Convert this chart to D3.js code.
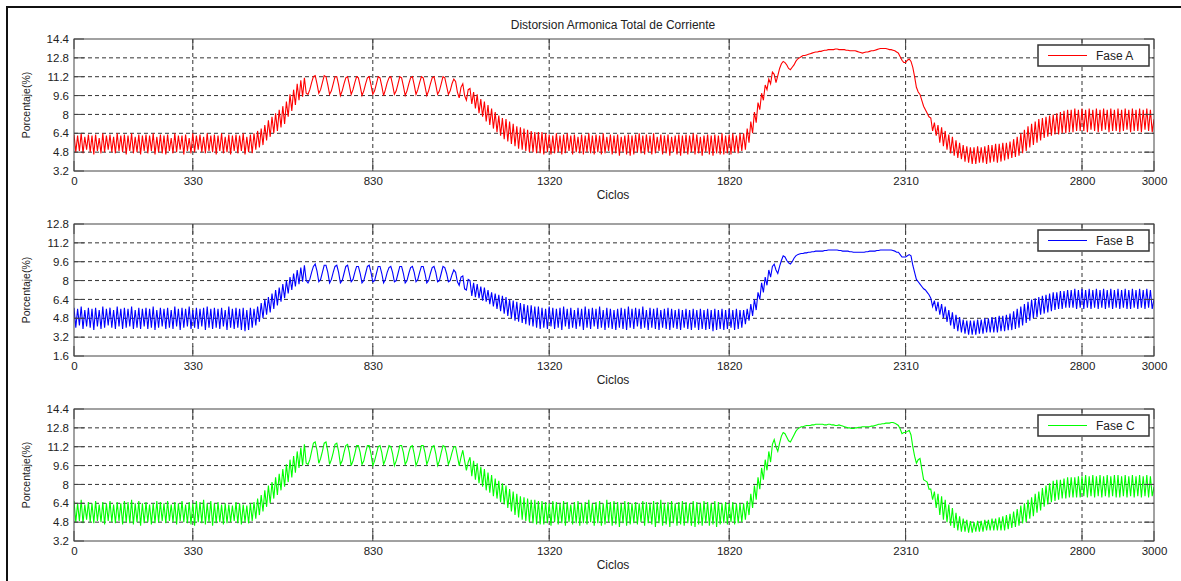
<!DOCTYPE html>
<html>
<head>
<meta charset="utf-8">
<script src="https://cdn.jsdelivr.net/npm/d3@7"></script>
<style>
  body { margin: 0; background: #fff; }
  svg text { font-family: "Liberation Sans", Arial, sans-serif; fill: #222; }
</style>
</head>
<body>
<div id="chart"></div>
<script>
// THD de corriente por fase, un valor cada 5 ciclos (0..3000)
var cycles = d3.range(0, 3001, 5);

var faseA = [
  6.3,4.8,6.2,4.9,6.4,4.7,6.1,5.0,6.3,4.8,6.2,4.6,6.3,4.9,6.0,4.7,6.4,4.8,6.2,5.0,
  6.3,4.8,6.1,4.7,6.4,4.9,6.2,4.8,6.3,4.6,6.2,4.9,6.4,4.7,6.1,4.8,6.3,4.6,6.2,4.9,
  6.3,4.7,6.2,4.9,6.4,4.6,6.1,4.8,6.3,4.7,6.2,4.6,6.3,4.9,6.0,4.7,6.4,4.8,6.2,5.0,
  6.2,4.6,6.3,4.9,6.0,4.7,6.4,4.8,6.2,5.0,6.3,4.8,6.1,4.7,6.4,4.9,6.2,4.8,6.3,4.6,
  6.2,4.9,6.4,4.7,6.1,4.8,6.3,4.6,6.2,4.9,6.3,4.7,6.2,4.9,6.4,4.6,6.1,4.8,6.3,4.7,
  6.4,5.0,6.6,5.2,6.8,5.4,7.1,5.8,7.5,6.1,7.8,6.4,8.1,6.6,8.4,6.9,8.7,7.2,9.1,7.8,
  9.7,8.3,10.1,8.8,10.6,9.2,10.9,9.5,11.1,9.8,9.7,10.1,10.7,11.2,11.3,10.6,9.8,10.1,10.7,11.3,
  11.2,10.5,9.7,10.0,10.6,11.2,11.2,10.5,9.6,10.0,10.6,11.1,11.2,10.5,9.7,10.1,10.7,11.2,11.1,10.4,
  9.6,10.0,10.6,11.1,11.2,10.5,9.7,10.0,10.6,11.2,11.1,10.4,9.6,10.1,10.7,11.1,11.2,10.5,9.7,10.0,
  10.6,11.2,11.1,10.4,9.6,10.0,10.6,11.1,11.2,10.5,9.7,10.1,10.7,11.2,11.1,10.4,9.6,10.0,10.6,11.1,
  11.2,10.5,9.7,10.0,10.6,11.2,11.1,10.4,9.7,10.0,10.6,11.0,10.8,9.9,9.4,10.3,10.6,9.6,9.2,10.1,
  10.2,8.9,9.9,8.5,9.7,8.1,9.3,7.8,9.1,7.4,8.8,7.1,8.5,6.8,8.2,6.5,7.9,6.2,7.7,5.9,
  7.6,5.7,7.4,5.5,7.2,5.3,7.0,5.1,6.9,5.0,6.8,4.9,6.7,4.8,6.6,4.8,6.5,4.7,6.5,4.7,
  6.5,4.6,6.4,4.8,6.3,4.6,6.2,4.7,6.4,4.8,6.2,4.6,6.3,4.7,6.4,4.9,6.2,4.6,6.3,4.8,
  6.1,4.7,6.3,4.6,6.2,4.8,6.4,4.7,6.2,4.6,6.3,4.8,6.2,4.6,6.4,4.7,6.1,4.9,6.3,4.6,
  6.2,4.7,6.3,4.5,6.1,4.8,6.2,4.6,6.3,4.5,6.2,4.6,6.3,4.8,6.4,4.7,6.2,4.6,6.3,4.8,
  6.2,4.6,6.4,4.7,6.1,4.9,6.3,4.6,6.2,4.7,6.3,4.5,6.1,4.8,6.2,4.6,6.3,4.5,6.2,4.7,
  6.3,4.6,6.2,4.8,6.4,4.6,6.3,4.7,6.1,4.5,6.2,4.8,6.3,4.6,6.2,4.5,6.3,4.7,6.2,4.6,
  6.4,4.6,6.2,4.7,6.3,4.6,6.4,4.8,6.2,4.7,6.4,4.9,6.4,5.0,6.8,5.6,7.4,6.4,8.2,7.3,
  9.0,8.4,9.8,9.2,10.5,10.1,11.0,10.6,11.6,11.4,10.7,11.3,11.9,12.3,12.5,12.4,12.2,11.9,11.8,12.0,
  12.2,12.5,12.7,12.8,12.9,13.0,13.0,13.05,13.1,13.15,13.2,13.25,13.3,13.3,13.35,13.35,13.4,13.45,13.45,13.5,
  13.5,13.5,13.5,13.55,13.55,13.5,13.5,13.5,13.5,13.45,13.45,13.4,13.4,13.4,13.4,13.35,13.3,13.25,13.2,13.25,
  13.3,13.3,13.35,13.4,13.4,13.45,13.5,13.55,13.6,13.6,13.6,13.6,13.55,13.5,13.5,13.45,13.4,13.3,13.2,12.9,
  12.6,12.4,12.4,12.6,12.7,12.5,12.0,11.2,10.3,9.9,9.7,9.2,8.7,8.4,8.1,7.8,7.7,6.6,7.3,6.2,
  7.1,5.6,6.9,5.3,6.6,5.0,6.3,4.7,6.1,4.5,5.8,4.3,5.6,4.2,5.4,4.0,5.3,3.9,5.2,3.8,
  5.2,3.8,5.3,3.9,5.2,3.9,5.3,3.8,5.4,3.9,5.4,4.0,5.5,3.9,5.5,4.0,5.6,4.1,5.6,4.2,
  5.7,4.3,5.9,4.4,6.1,4.5,6.4,4.7,6.7,4.9,7.0,5.2,7.2,5.4,7.4,5.6,7.6,5.8,7.7,6.0,
  7.8,6.1,7.9,6.2,8.0,6.3,8.1,6.3,8.2,6.4,8.3,6.4,8.4,6.5,8.4,6.5,8.5,6.6,8.4,6.6,
  8.5,6.6,8.4,6.5,8.5,6.7,8.4,6.6,8.5,6.5,8.4,6.6,8.5,6.7,8.4,6.5,8.5,6.6,8.4,6.6,
  8.5,6.5,8.4,6.6,8.5,6.7,8.4,6.5,8.5,6.6,8.4,6.6,8.5,6.5,8.4,6.7,8.5,6.6,8.4,6.5,
  7.6
];

var faseB = [
  5.7,4.0,5.6,4.2,5.8,3.9,5.5,4.1,5.7,4.0,5.6,3.8,5.7,4.1,5.5,3.9,5.8,4.0,5.6,4.2,
  5.7,4.0,5.5,3.9,5.8,4.1,5.6,3.9,5.7,4.0,5.6,4.1,5.8,3.9,5.5,4.0,5.7,3.9,5.6,4.1,
  5.7,3.9,5.6,4.0,5.8,3.8,5.5,4.0,5.7,4.1,5.6,3.9,5.7,4.0,5.5,3.9,5.8,4.1,5.6,3.8,
  5.7,4.0,5.6,4.1,5.8,3.9,5.5,4.0,5.7,3.9,5.6,4.1,5.7,3.8,5.8,4.0,5.6,3.9,5.7,4.0,
  5.6,3.9,5.7,4.1,5.5,3.8,5.8,4.0,5.6,3.9,5.7,4.0,5.6,3.8,5.7,3.7,5.5,3.8,5.7,4.0,
  5.6,4.2,5.8,4.5,6.1,4.8,6.4,5.1,6.6,5.3,6.9,5.6,7.2,5.9,7.4,6.2,7.7,6.5,8.0,6.9,
  8.3,7.2,8.6,7.5,8.9,7.7,9.1,7.9,9.3,8.0,7.8,8.1,8.7,9.2,9.4,8.8,7.9,8.1,8.7,9.3,
  9.3,8.7,7.8,8.1,8.7,9.2,9.3,8.7,7.8,8.0,8.6,9.2,9.3,8.6,7.9,8.1,8.7,9.2,9.2,8.6,
  7.8,8.0,8.6,9.2,9.3,8.7,7.9,8.0,8.6,9.2,9.2,8.6,7.8,8.1,8.7,9.1,9.2,8.7,7.9,8.0,
  8.6,9.2,9.2,8.6,7.8,8.0,8.6,9.1,9.2,8.7,7.9,8.1,8.7,9.2,9.2,8.6,7.8,8.0,8.6,9.1,
  9.2,8.7,7.9,8.0,8.6,9.2,9.1,8.6,7.9,8.0,8.5,8.9,8.7,7.9,7.6,8.3,8.4,7.3,7.2,8.1,
  8.0,6.7,7.8,6.6,7.7,6.5,7.5,6.3,7.4,6.2,7.2,6.0,7.0,5.8,6.9,5.6,6.8,5.4,6.7,5.2,
  6.6,5.0,6.4,4.8,6.3,4.6,6.2,4.5,6.1,4.4,6.0,4.3,5.9,4.2,5.9,4.1,5.8,4.0,5.8,3.9,
  5.7,4.0,5.6,3.9,5.8,4.1,5.7,3.9,5.6,4.0,5.7,3.8,5.8,4.1,5.6,3.9,5.7,4.0,5.5,3.9,
  5.7,4.1,5.6,3.8,5.8,4.0,5.6,3.9,5.7,4.1,5.6,3.9,5.8,4.0,5.5,3.8,5.7,4.0,5.6,3.9,
  5.5,3.8,5.6,4.0,5.7,3.9,5.6,3.8,5.8,4.0,5.6,3.9,5.7,4.1,5.6,3.9,5.8,4.0,5.5,3.8,
  5.7,4.0,5.6,3.9,5.7,3.8,5.5,4.0,5.6,3.9,5.7,3.8,5.6,4.0,5.5,3.9,5.6,3.8,5.5,4.0,
  5.6,3.9,5.5,3.8,5.6,4.0,5.5,3.8,5.6,3.9,5.5,3.8,5.6,3.9,5.5,3.7,5.6,3.8,5.5,3.9,
  5.6,3.8,5.5,3.9,5.6,4.0,5.5,3.8,5.6,3.9,5.5,4.0,5.5,4.3,5.6,4.6,6.0,5.0,6.4,5.5,
  7.0,6.4,7.8,7.0,8.3,7.6,8.9,8.3,9.2,9.4,8.9,8.6,9.2,9.7,10.1,10.0,9.7,9.5,9.4,9.6,
  9.9,10.1,10.2,10.25,10.3,10.3,10.35,10.35,10.4,10.4,10.45,10.45,10.5,10.5,10.5,10.5,10.5,10.55,10.55,10.6,
  10.6,10.6,10.6,10.6,10.6,10.55,10.55,10.5,10.5,10.5,10.5,10.45,10.45,10.4,10.4,10.4,10.4,10.4,10.4,10.4,
  10.45,10.45,10.5,10.5,10.5,10.5,10.55,10.55,10.6,10.6,10.6,10.6,10.6,10.6,10.6,10.55,10.5,10.4,10.4,10.2,
  10.0,10.0,10.0,10.1,10.2,10.1,9.3,8.7,8.1,7.9,7.7,7.5,7.3,7.2,7.0,6.8,6.5,5.8,6.3,5.4,
  6.2,5.1,6.0,4.8,5.8,4.5,5.5,4.2,5.3,3.9,5.1,3.7,4.9,3.6,4.7,3.5,4.6,3.4,4.6,3.4,
  4.6,3.4,4.7,3.5,4.7,3.5,4.8,3.6,4.8,3.6,4.9,3.6,4.9,3.6,5.0,3.7,5.0,3.7,5.1,3.8,
  5.2,3.8,5.4,3.9,5.6,4.0,5.8,4.2,6.0,4.4,6.2,4.6,6.4,4.8,6.5,4.9,6.6,5.1,6.7,5.2,
  6.8,5.3,6.9,5.4,7.0,5.5,7.0,5.6,7.1,5.6,7.1,5.7,7.2,5.7,7.2,5.7,7.3,5.6,7.2,5.7,
  7.3,5.6,7.2,5.7,7.3,5.6,7.2,5.7,7.3,5.6,7.2,5.7,7.3,5.6,7.2,5.7,7.3,5.6,7.2,5.7,
  7.3,5.6,7.2,5.7,7.3,5.6,7.2,5.6,7.3,5.7,7.2,5.6,7.3,5.7,7.2,5.6,7.3,5.7,7.2,5.6,
  6.4
];

var faseC = [
  6.6,4.8,6.4,4.9,6.7,4.7,6.3,5.0,6.5,4.8,6.4,4.7,6.6,4.9,6.3,4.8,6.5,4.6,6.4,4.9,
  6.6,4.8,6.3,4.7,6.5,4.9,6.4,4.6,6.6,4.8,6.5,4.7,6.7,4.6,6.4,4.8,6.6,4.5,6.4,4.7,
  6.5,4.8,6.3,4.6,6.4,4.7,6.6,4.8,6.5,4.9,6.4,4.7,6.6,4.9,6.3,4.8,6.5,4.6,6.4,4.9,
  6.6,4.8,6.3,4.7,6.5,4.6,6.4,4.5,6.6,4.8,6.5,4.7,6.7,4.6,6.4,4.8,6.6,4.5,6.4,4.7,
  6.5,4.8,6.3,4.6,6.4,4.7,6.3,4.8,6.2,4.9,6.5,4.7,6.4,4.6,6.3,4.8,6.2,4.7,6.4,4.9,
  6.5,5.1,6.8,5.4,7.1,5.7,7.5,6.1,7.9,6.4,8.2,6.8,8.6,7.1,8.9,7.5,9.3,7.8,9.7,8.2,
  10.1,8.6,10.4,9.0,10.8,9.4,11.1,9.6,11.4,9.8,9.7,10.1,10.8,11.5,11.6,10.9,9.8,10.2,10.8,11.5,
  11.6,10.8,9.7,10.1,10.7,11.4,11.5,10.8,9.7,10.0,10.7,11.3,11.4,10.7,9.6,10.0,10.6,11.3,11.3,10.7,
  9.7,10.0,10.7,11.3,11.3,10.6,9.6,10.0,10.6,11.2,11.3,10.7,9.7,10.1,10.7,11.3,11.2,10.6,9.6,10.0,
  10.6,11.3,11.3,10.7,9.7,10.0,10.7,11.2,11.3,10.6,9.6,10.0,10.6,11.3,11.3,10.7,9.7,10.1,10.7,11.2,
  11.3,10.6,9.6,10.0,10.7,11.3,11.2,10.6,9.7,10.1,10.7,11.2,11.2,10.4,9.6,10.3,10.9,10.0,9.2,9.9,
  10.3,8.7,10.0,8.4,9.8,8.1,9.5,7.8,9.3,7.5,9.0,7.3,8.8,7.0,8.5,6.8,8.3,6.5,8.1,6.3,
  7.9,6.0,7.6,5.7,7.4,5.4,7.2,5.2,7.0,5.0,6.9,4.9,6.8,4.8,6.7,4.7,6.7,4.6,6.6,4.6,
  6.6,4.6,6.5,4.7,6.4,4.5,6.6,4.8,6.5,4.6,6.4,4.7,6.6,4.5,6.5,4.8,6.3,4.6,6.5,4.7,
  6.6,4.5,6.4,4.7,6.5,4.6,6.7,4.8,6.4,4.5,6.5,4.7,6.6,4.5,6.4,4.6,6.7,4.8,6.5,4.5,
  6.6,4.6,6.5,4.4,6.4,4.7,6.6,4.5,6.5,4.6,6.4,4.7,6.5,4.6,6.4,4.8,6.6,4.5,6.5,4.7,
  6.4,4.6,6.6,4.4,6.5,4.7,6.7,4.5,6.4,4.6,6.5,4.4,6.6,4.7,6.4,4.5,6.5,4.6,6.6,4.5,
  6.5,4.7,6.4,4.5,6.6,4.4,6.5,4.6,6.4,4.5,6.6,4.7,6.5,4.5,6.4,4.6,6.6,4.4,6.5,4.6,
  6.4,4.7,6.5,4.6,6.4,4.8,6.5,4.6,6.4,4.7,6.4,4.8,6.4,5.0,6.6,5.4,7.2,6.0,7.9,6.7,
  8.6,7.6,9.4,8.4,10.1,9.2,10.8,9.9,11.4,11.8,11.2,10.8,11.5,12.1,12.4,12.3,12.0,11.7,11.6,11.9,
  12.2,12.5,12.7,12.8,12.9,12.9,12.95,13.0,13.0,13.0,13.05,13.05,13.1,13.1,13.1,13.1,13.1,13.05,13.05,13.1,
  13.1,13.05,13.05,13.0,13.0,13.05,13.0,12.95,12.9,12.85,12.8,12.8,12.75,12.75,12.8,12.8,12.85,12.85,12.9,12.9,
  12.9,12.9,12.9,12.95,12.95,13.0,13.05,13.1,13.1,13.15,13.15,13.2,13.2,13.2,13.25,13.25,13.2,13.1,13.0,12.7,
  12.3,12.4,12.4,12.5,12.6,12.2,11.2,10.4,9.8,10.1,10.2,9.3,8.4,8.3,8.2,7.6,7.6,6.7,7.4,6.0,
  7.2,5.4,7.0,5.0,6.7,4.8,6.3,4.5,6.0,4.3,5.6,4.1,5.3,4.0,5.1,4.0,5.0,3.9,4.9,3.9,
  4.8,4.0,4.9,4.0,4.9,4.0,5.0,4.1,5.0,4.1,5.1,4.1,5.1,4.1,5.2,4.1,5.3,4.1,5.4,4.2,
  5.5,4.3,5.7,4.4,5.9,4.5,6.2,4.7,6.4,4.8,6.7,5.1,6.9,5.3,7.2,5.6,7.4,5.8,7.7,6.1,
  7.9,6.3,8.1,6.5,8.3,6.6,8.4,6.7,8.4,6.8,8.5,6.8,8.6,6.9,8.6,6.9,8.6,6.9,8.7,6.9,
  8.7,7.0,8.8,6.9,8.7,7.0,8.8,6.9,8.7,7.0,8.8,6.9,8.7,7.0,8.8,6.9,8.7,7.0,8.8,6.9,
  8.8,6.9,8.7,7.0,8.8,6.9,8.7,7.0,8.8,6.9,8.7,7.0,8.8,6.9,8.7,7.0,8.8,6.9,8.7,7.0,
  7.8
];

var xTicks = [0, 330, 830, 1320, 1820, 2310, 2800, 3000];
var yTicksAC = [3.2, 4.8, 6.4, 8, 9.6, 11.2, 12.8, 14.4];
var yTicksB = [1.6, 3.2, 4.8, 6.4, 8, 9.6, 11.2, 12.8];

var phases = ["Fase A", "Fase B", "Fase C"];
var series = [faseA, faseB, faseC];
var yTickSets = [yTicksAC, yTicksB, yTicksAC];
var colors = ["#ff0000", "#0000ff", "#00ff00"];

var width = 1181, height = 581;
var left = 74, right = 1154;
var panelTop = 39, panelH = 132, panelStep = 185;

var svg = d3.select("#chart")
  .append("svg")
    .attr("width", width)
    .attr("height", height);

// marco de la figura
svg.append("path")
  .attr("d", "M7,581 V7 H1181")
  .attr("fill", "none")
  .attr("stroke", "#111")
  .attr("stroke-width", 2);

svg.append("text")
  .attr("x", 613)
  .attr("y", 29)
  .attr("text-anchor", "middle")
  .style("font-size", "12px")
  .text("Distorsion Armonica Total de Corriente");

var x = d3.scaleLinear().domain([0, 3000]).range([left, right]);

phases.forEach(function(name, k) {
  var top = panelTop + k * panelStep;
  var ticks = yTickSets[k];
  var y = d3.scaleLinear()
    .domain([ticks[0], ticks[ticks.length - 1]])
    .range([top + panelH, top]);

  var g = svg.append("g");

  // grid
  g.selectAll(".gy")
    .data(ticks.slice(1, -1))
    .enter()
    .append("line")
      .attr("x1", left).attr("x2", right)
      .attr("y1", d => y(d)).attr("y2", d => y(d))
      .attr("stroke", "#333")
      .attr("stroke-dasharray", "4,3");

  g.selectAll(".gx")
    .data(xTicks.slice(1, -1))
    .enter()
    .append("line")
      .attr("x1", d => x(d)).attr("x2", d => x(d))
      .attr("y1", top).attr("y2", top + panelH)
      .attr("stroke", "#333")
      .attr("stroke-dasharray", "4,3");

  // clip
  svg.append("clipPath")
    .attr("id", "clip" + k)
    .append("rect")
      .attr("x", left).attr("y", top)
      .attr("width", right - left).attr("height", panelH);

  var line = d3.line()
    .x((d, i) => x(cycles[i]))
    .y(d => y(d));

  g.append("path")
    .datum(series[k])
    .attr("clip-path", "url(#clip" + k + ")")
    .attr("fill", "none")
    .attr("stroke", colors[k])
    .attr("stroke-width", 1.1)
    .attr("d", line);

  // ticks hacia dentro
  g.selectAll(".ty")
    .data(ticks)
    .enter()
    .append("path")
      .attr("d", d => "M" + left + "," + y(d) + "h10M" + right + "," + y(d) + "h-10")
      .attr("stroke", "#444");

  g.selectAll(".tx")
    .data(xTicks)
    .enter()
    .append("path")
      .attr("d", d => "M" + x(d) + "," + (top + panelH) + "v-10M" + x(d) + "," + top + "v10")
      .attr("stroke", "#444");

  g.append("rect")
    .attr("x", left).attr("y", top)
    .attr("width", right - left).attr("height", panelH)
    .attr("fill", "none")
    .attr("stroke", "#444");

  // ejes
  var ax = g.append("g")
    .attr("transform", "translate(0," + (top + panelH) + ")")
    .call(d3.axisBottom(x).tickValues(xTicks).tickSize(0).tickPadding(6).tickFormat(d3.format("d")));
  ax.select(".domain").remove();

  var ay = g.append("g")
    .attr("transform", "translate(" + left + ",0)")
    .call(d3.axisLeft(y).tickValues(ticks).tickSize(0).tickPadding(5).tickFormat(d => String(d)));
  ay.select(".domain").remove();

  g.selectAll(".tick text")
    .style("font-size", "11.5px")
    .style("font-family", "'Liberation Sans', Arial, sans-serif")
    .attr("fill", "#222");

  g.append("text")
    .attr("x", 613)
    .attr("y", top + panelH + 28)
    .attr("text-anchor", "middle")
    .style("font-size", "12px")
    .text("Ciclos");

  g.append("text")
    .attr("transform", "translate(30," + (top + panelH / 2) + ") rotate(-90)")
    .attr("text-anchor", "middle")
    .style("font-size", "10.5px")
    .text("Porcentaje(%)");

  // leyenda
  var lg = g.append("g")
    .attr("transform", "translate(1038," + (top + 6) + ")");
  lg.append("rect")
    .attr("width", 111).attr("height", 21)
    .attr("fill", "#fff")
    .attr("stroke", "#333")
    .attr("stroke-width", 1.5);
  lg.append("line")
    .attr("x1", 10).attr("x2", 49)
    .attr("y1", 10.5).attr("y2", 10.5)
    .attr("stroke", colors[k])
    .attr("stroke-width", 1.2);
  lg.append("text")
    .attr("x", 58)
    .attr("y", 15)
    .style("font-size", "12px")
    .text(name);
});
</script>
</body>
</html>
